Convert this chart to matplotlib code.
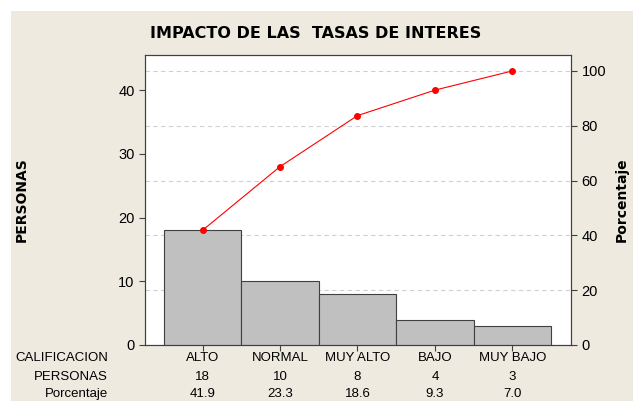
import matplotlib.pyplot as plt
import numpy as np

plt.rcParams['font.family'] = ['Liberation Sans', 'DejaVu Sans']

categorias = ["ALTO", "NORMAL", "MUY ALTO", "BAJO", "MUY BAJO"]
personas = [18, 10, 8, 4, 3]
porcentaje = ["41.9", "23.3", "18.6", "9.3", "7.0"]
acumulado = [41.9, 65.1, 83.7, 93.0, 100.0]

W, H = 633, 401
fig = plt.figure(figsize=(W / 100, H / 100), dpi=100)
fig.patch.set_facecolor("white")
fig.patches.append(plt.Rectangle((11 / W, 0), 1, 1 - 11 / H, transform=fig.transFigure,
                                 facecolor="#EEEAE0", edgecolor="none", zorder=-10))

ax = fig.add_axes([145 / W, 1 - 345 / H, (571 - 145) / W, (345 - 55) / H])
ax2 = ax.twinx()
# bars in front of the percentage grid
ax.set_zorder(ax2.get_zorder() + 1)
ax.patch.set_visible(False)
ax2.patch.set_visible(True)
ax2.patch.set_facecolor("white")

x = np.arange(len(categorias))
ax.bar(x, personas, width=1.0, color="#C0C0C0", edgecolor="#404040", linewidth=0.8, zorder=2)
ax.set_xlim(-0.745, 4.758)
ax.set_ylim(0, 45.5)
ax.set_yticks([0, 10, 20, 30, 40])
ax.set_xticks(x)
ax.set_xticklabels([])
ax.tick_params(axis="x", length=4, color="#404040")
ax.tick_params(axis="y", length=4, color="#404040", labelsize=10.5)
for s in ax.spines.values():
    s.set_color("#404040")
ax.set_ylabel("PERSONAS", fontsize=10, fontweight="bold", family="DejaVu Sans", labelpad=0)
ax.yaxis.set_label_coords(-116 / 426, 0.5)

ax2.set_ylim(0, 45.5 / sum(personas) * 100)
ax2.set_yticks([0, 20, 40, 60, 80, 100])
ax2.tick_params(axis="y", length=4, color="#404040", labelsize=10.5)
ax2.grid(axis="y", linestyle=(0, (4, 3)), color="#D0D0D0", linewidth=0.8)
ax2.set_ylabel("Porcentaje", fontsize=10, fontweight="bold", family="DejaVu Sans")
ax2.yaxis.set_label_coords(1 + 44 / 426, 0.5)
for s in ax2.spines.values():
    s.set_color("#404040")

# cumulative line drawn on top, in percentage scale
ax.plot(x, acumulado, color="red", linewidth=0.8, marker="o", markersize=4,
        zorder=3, transform=ax2.transData)

fig.text(150 / W, 1 - 33 / H, "IMPACTO DE LAS  TASAS DE INTERES", fontsize=11.5,
         fontweight="bold", family="DejaVu Sans", va="center", ha="left")

filas = [("CALIFICACION", categorias), ("PERSONAS", [str(p) for p in personas]),
         ("Porcentaje", porcentaje)]
ys = [358, 377, 394]
for (nombre, vals), yy in zip(filas, ys):
    fig.text(108 / W, 1 - yy / H, nombre, fontsize=9.5, ha="right", va="center")
    for xi, v in zip(x, vals):
        xp = ax.transData.transform((xi, 0))[0]
        fig.text(xp / W, 1 - yy / H, v, fontsize=9.5, ha="center", va="center")

fig.savefig("out.png", dpi=100, facecolor=fig.get_facecolor())
